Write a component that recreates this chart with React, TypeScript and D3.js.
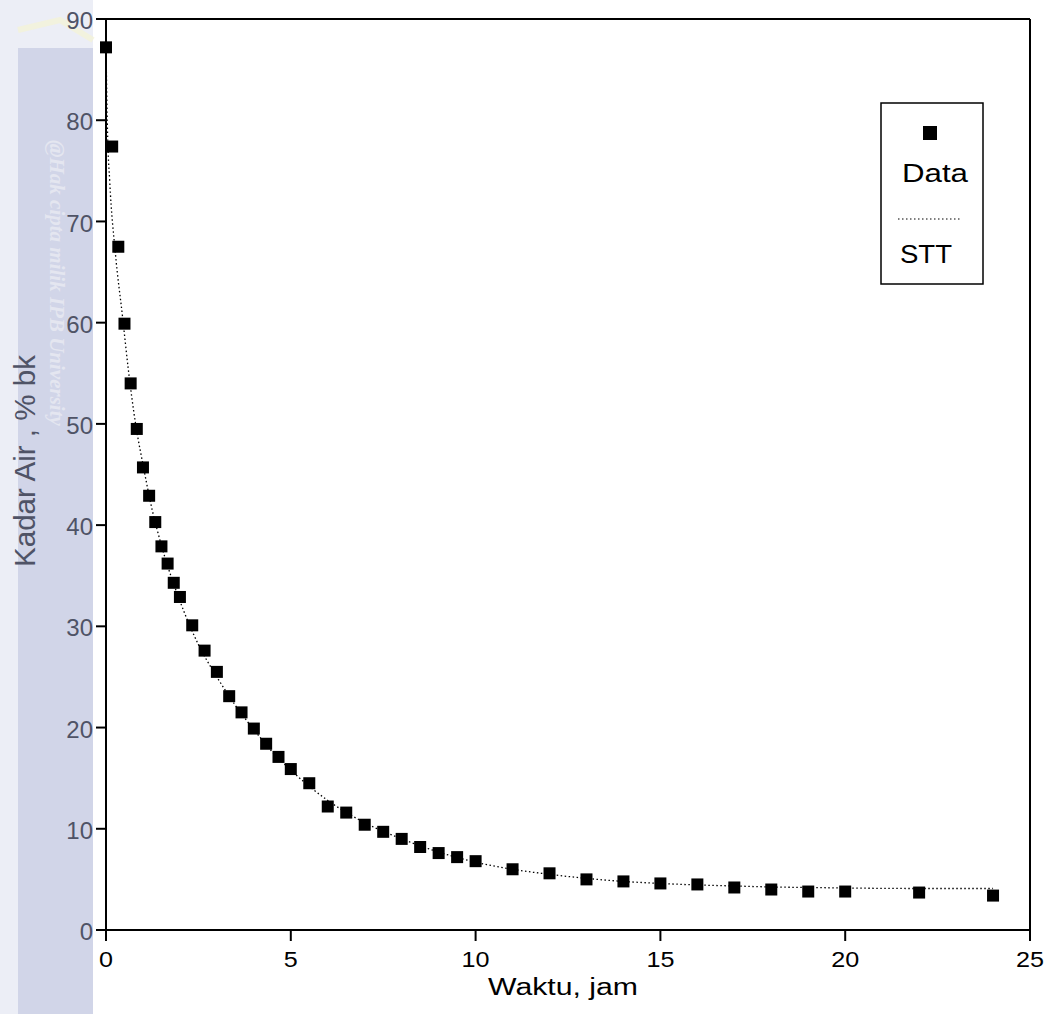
import React from "react";
import * as d3 from "d3";

const timeHours = [0, 0.167, 0.333, 0.5, 0.667, 0.833, 1, 1.167, 1.333, 1.5, 1.667, 1.833, 2, 2.333, 2.667, 3, 3.333, 3.667, 4, 4.333, 4.667, 5, 5.5, 6, 6.5, 7, 7.5, 8, 8.5, 9, 9.5, 10, 11, 12, 13, 14, 15, 16, 17, 18, 19, 20, 22, 24];
const moistureData = [87.2, 77.4, 67.5, 59.9, 54.0, 49.5, 45.7, 42.9, 40.3, 37.9, 36.2, 34.3, 32.9, 30.1, 27.6, 25.5, 23.1, 21.5, 19.9, 18.4, 17.1, 15.9, 14.5, 12.2, 11.6, 10.4, 9.7, 9.0, 8.2, 7.6, 7.2, 6.8, 6.0, 5.6, 5.0, 4.8, 4.6, 4.5, 4.2, 4.0, 3.8, 3.8, 3.7, 3.4];

const modelTime = [0, 0.04, 0.1, 0.25, 0.45, 0.6, 0.8, 1, 1.25, 1.5, 2, 2.5, 3, 3.5, 4, 4.5, 5, 6, 7, 8, 9, 10, 11, 12, 13, 14, 15, 16, 17, 18, 19, 20, 22, 24];
const modelSTT = [87.2, 79, 74, 67, 60.5, 55.5, 50, 46, 41.5, 38, 32.5, 28.2, 25, 22.2, 19.8, 17.6, 15.8, 12.8, 10.6, 9.0, 7.7, 6.7, 6.0, 5.5, 5.1, 4.8, 4.6, 4.45, 4.35, 4.25, 4.2, 4.15, 4.1, 4.1];

const xTicks = [0, 5, 10, 15, 20, 25];
const yTicks = [0, 10, 20, 30, 40, 50, 60, 70, 80, 90];

const W = 1048;
const H = 1014;
const left = 106, right = 1030, top = 19, bottom = 930;

export default function App() {
  const x = d3.scaleLinear().domain([0, 25]).range([left, right]);
  const y = d3.scaleLinear().domain([0, 90]).range([bottom, top]);
  const line = d3
    .line<number>()
    .x((_, i) => x(modelTime[i]))
    .y((d) => y(d))
    .curve(d3.curveMonotoneX);
  const font = "Helvetica, Arial, 'Liberation Sans', sans-serif";
  const ms = 12;
  return (
    <div style={{ position: "absolute", left: 0, top: 0 }}>
      <svg width={W} height={H} style={{ display: "block", background: "#fff" }}>
        {/* watermark strip */}
        <rect x={0} y={0} width={93} height={H} fill="#eceef6" />
        <rect x={18} y={48} width={75} height={H - 48} fill="#d1d5e8" />
        <path d="M18,30 L60,20 L93,40" fill="none" stroke="#f4f2d8" strokeWidth={6} opacity={0.8} />
        <text
          transform="translate(50,140) rotate(90)"
          fontFamily="'Liberation Serif', serif"
          fontStyle="italic"
          fontWeight="bold"
          fontSize={21}
          fill="#e4e6f0"
        >
          @Hak cipta milik IPB University
        </text>

        {/* frame */}
        <line x1={left} x2={right} y1={top} y2={top} stroke="#000" strokeWidth={2} />
        <line x1={right} x2={right} y1={top} y2={bottom} stroke="#000" strokeWidth={2} />
        <line x1={left} x2={left} y1={top} y2={bottom} stroke="#000" strokeWidth={2} />
        <line x1={left} x2={right} y1={bottom} y2={bottom} stroke="#000" strokeWidth={2} />

        {/* y ticks */}
        {yTicks.map((t) => (
          <g key={"y" + t}>
            <line x1={left - 10} x2={left} y1={y(t)} y2={y(t)} stroke="#000" strokeWidth={2} />
            <text
              x={93}
              y={y(t)}
              dy="0.42em"
              textAnchor="end"
              fontFamily={font}
              fontSize={24}
              fill="#4f5366"
            >
              {t}
            </text>
          </g>
        ))}

        {/* x ticks */}
        {xTicks.map((t) => (
          <g key={"x" + t}>
            <line x1={x(t)} x2={x(t)} y1={bottom} y2={bottom + 11} stroke="#000" strokeWidth={2} />
            <text
              x={x(t)}
              y={967}
              textAnchor="middle"
              fontFamily={font}
              fontSize={22}
              textLength={String(t).length * 14}
              lengthAdjust="spacingAndGlyphs"
              fill="#000"
            >
              {t}
            </text>
          </g>
        ))}

        {/* axis titles */}
        <text
          x={563}
          y={995}
          textAnchor="middle"
          fontFamily={font}
          fontSize={23}
          textLength={150}
          lengthAdjust="spacingAndGlyphs"
          fill="#000"
        >
          Waktu, jam
        </text>
        <text
          transform="translate(35,461) rotate(-90)"
          textAnchor="middle"
          fontFamily={font}
          fontSize={30}
          textLength={212}
          lengthAdjust="spacingAndGlyphs"
          fill="#4f5366"
        >
          Kadar Air , % bk
        </text>

        {/* model line */}
        <path
          d={line(modelSTT) || ""}
          fill="none"
          stroke="#000"
          strokeWidth={1.3}
          strokeDasharray="1.5,2.5"
        />

        {/* data markers */}
        {moistureData.map((v, i) => (
          <rect
            key={"p" + i}
            x={x(timeHours[i]) - ms / 2}
            y={y(v) - ms / 2}
            width={ms}
            height={ms}
            fill="#000"
          />
        ))}

        {/* legend */}
        <rect x={881} y={103} width={102} height={181} fill="#fff" stroke="#000" strokeWidth={1.5} />
        <rect x={923} y={126} width={14} height={14} fill="#000" />
        <text
          x={902}
          y={182}
          fontFamily={font}
          fontSize={25}
          textLength={66}
          lengthAdjust="spacingAndGlyphs"
          fill="#000"
        >
          Data
        </text>
        <line x1={898} x2={960} y1={219} y2={219} stroke="#000" strokeWidth={1.2} strokeDasharray="1.5,2.5" />
        <text
          x={900}
          y={263}
          fontFamily={font}
          fontSize={25}
          textLength={52}
          lengthAdjust="spacingAndGlyphs"
          fill="#000"
        >
          STT
        </text>
      </svg>
    </div>
  );
}
